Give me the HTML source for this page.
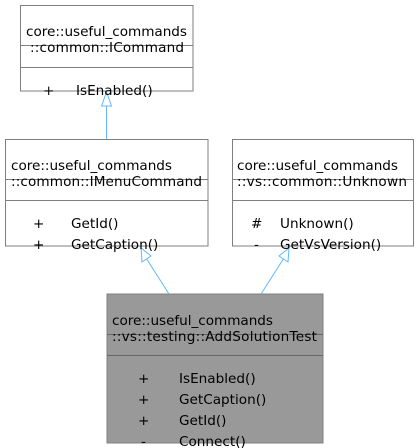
<!DOCTYPE html>
<html><head><style>html,body{margin:0;padding:0;background:#fff}svg{display:block}text{font-family:"DejaVu Sans","Liberation Sans",sans-serif;font-size:13.6px;fill:#000}</style></head>
<body>
<svg width="418" height="448" viewBox="0 0 418 448">
<g stroke="#7f7f7f" stroke-width="1" fill="#fff">
<rect x="20.5" y="5.5" width="172.5" height="85.5"/>
<line x1="20.5" y1="45.5" x2="193" y2="45.5"/>
<line x1="20.5" y1="67.5" x2="193" y2="67.5"/>
<rect x="5.5" y="139.5" width="202.5" height="106.5"/>
<line x1="5.5" y1="179.5" x2="208" y2="179.5"/>
<line x1="5.5" y1="200.5" x2="208" y2="200.5"/>
<rect x="232.5" y="139.5" width="181" height="106.5"/>
<line x1="232.5" y1="179.5" x2="413.5" y2="179.5"/>
<line x1="232.5" y1="200.5" x2="413.5" y2="200.5"/>
<rect x="107" y="294" width="216" height="149" fill="#999"/>
<line x1="107" y1="334.5" x2="323" y2="334.5" stroke="#666"/>
<line x1="107" y1="355.5" x2="323" y2="355.5" stroke="#666"/>
</g>
<g stroke="#63b8ff" stroke-width="1" fill="#fff">
<line x1="106.5" y1="139" x2="106.5" y2="106"/>
<polygon points="106.5,92 101.5,106 111.5,106"/>
<line x1="169" y1="294" x2="146" y2="258"/>
<polygon points="141,248 142,262 151,256"/>
<line x1="261" y1="294" x2="284" y2="258"/>
<polygon points="289,248 279,256 288,262"/>
</g>
<text x="26" y="36" textLength="161">core::useful_commands</text>
<text x="30" y="52" textLength="154">::common::ICommand</text>
<text x="43" y="95">+</text><text x="76" y="95">IsEnabled()</text>
<text x="11" y="170" textLength="161">core::useful_commands</text>
<text x="11" y="186" textLength="191">::common::IMenuCommand</text>
<text x="33" y="228">+</text><text x="71" y="228">GetId()</text>
<text x="33" y="249">+</text><text x="71" y="249">GetCaption()</text>
<text x="237" y="170" textLength="161">core::useful_commands</text>
<text x="237" y="186" textLength="170">::vs::common::Unknown</text>
<text x="251" y="228">#</text><text x="280" y="228">Unknown()</text>
<text x="254" y="249">-</text><text x="280" y="249">GetVsVersion()</text>
<text x="112" y="325" textLength="161">core::useful_commands</text>
<text x="112" y="341" textLength="205">::vs::testing::AddSolutionTest</text>
<text x="138" y="383">+</text><text x="179" y="383">IsEnabled()</text>
<text x="138" y="404">+</text><text x="179" y="404">GetCaption()</text>
<text x="138" y="425">+</text><text x="179" y="425">GetId()</text>
<text x="141" y="446">-</text><text x="179" y="446">Connect()</text>
</svg>
</body></html>
